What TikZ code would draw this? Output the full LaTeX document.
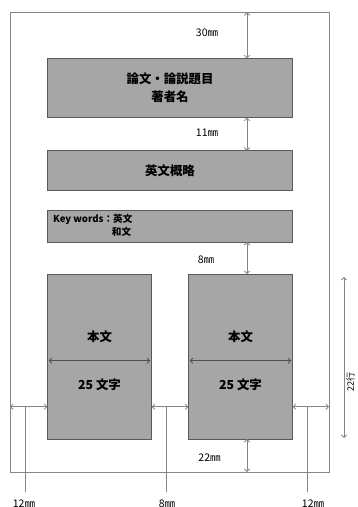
\documentclass[tikz,border=0pt]{standalone}
\usepackage{fontspec}
\setmainfont{Noto Sans CJK JP}
\usetikzlibrary{arrows.meta}
\definecolor{boxfill}{HTML}{A6A6A6}
\definecolor{boxline}{HTML}{5A5A5A}
\definecolor{dimline}{HTML}{858585}
\definecolor{innerline}{HTML}{505050}
\tikzset{
 blk/.style={draw=boxline, fill=boxfill, line width=0.9pt, inner sep=0pt, outer sep=0pt, anchor=north west},
 tip/.tip={Straight Barb[length=2.6pt,width=5.5pt]},
 dim/.style={draw=dimline, line width=0.8pt, tip-tip},
 innerdim/.style={draw=innerline, line width=0.8pt, tip-tip},
 leader/.style={draw=dimline, line width=0.8pt},
 lab/.style={font=\fontsize{10.5}{12}\selectfont, text=black, inner sep=0pt},
 big/.style={font=\fontsize{12.4}{18}\selectfont\bfseries, align=center, text=black},
 kwtext/.style={font=\fontsize{9.6}{11}\selectfont\bfseries, text=black, inner sep=0pt, anchor=west},
}
\begin{document}
\begin{tikzpicture}[x=1pt,y=-1pt]
\useasboundingbox (0,0) rectangle (357,507);
% page frame
\node[draw=dimline, line width=0.9pt, inner sep=0pt, outer sep=0pt, anchor=north west,
      minimum width=319pt, minimum height=459.7pt] (page) at (10,12.3) {};
% blocks
\node[blk, minimum width=245.4pt, minimum height=59.4pt] (title) at (47.3,58.3) {};
\node[big] (titletext) at (title.center) {論文・論説題目\\著者名};
\node[blk, minimum width=245.4pt, minimum height=39.3pt] (abs) at (47.3,150.7) {};
\node[big] (abstext) at (abs.center) {英文概略};
\node[blk, minimum width=245.4pt, minimum height=32pt] (kw) at (47.3,210) {};
\node[kwtext] (kw1) at (53,219) {Key words：英文};
\node[kwtext] (kw2) at (111.7,232) {和文};
\node[blk, minimum width=104.4pt, minimum height=165pt] (bodyL) at (47.3,274) {};
\node[blk, minimum width=104.4pt, minimum height=165pt] (bodyR) at (188.3,274) {};
\node[big] (bodyLt) at (99.5,337) {本文};
\node[big] (bodyLc) at (99.5,385) {25 文字};
\node[big] (bodyRt) at (240.5,337) {本文};
\node[big] (bodyRc) at (240.5,385) {25 文字};
% inner width arrows
\coordinate (iy) at (0,360.7);
\draw[innerdim] ([xshift=1.5pt]bodyL.west |- iy) -- ([xshift=-1.5pt]bodyL.east |- iy);
\draw[innerdim] ([xshift=1.5pt]bodyR.west |- iy) -- ([xshift=-1.5pt]bodyR.east |- iy);
% vertical dimension arrows
\coordinate (ax) at (247,0);
\draw[dim] (page.north -| ax) -- (title.north -| ax);
\draw[dim] (title.south -| ax) -- (abs.north -| ax);
\draw[dim] (kw.south -| ax) -- (bodyR.north -| ax);
\draw[dim] (bodyR.south -| ax) -- (page.south -| ax);
\node[lab] (d30) at (207,33) {30㎜};
\node[lab] (d11) at (207,133) {11㎜};
\node[lab] (d8) at (206,260) {8㎜};
\node[lab] (d22) at (209.5,458) {22㎜};
% horizontal margin arrows
\coordinate (my) at (0,406.7);
\draw[dim] (page.west |- my) -- (bodyL.west |- my);
\draw[dim] (bodyL.east |- my) -- (bodyR.west |- my);
\draw[dim] (bodyR.east |- my) -- (page.east |- my);
\coordinate (l1a) at (25,406.7);   \coordinate (l1b) at (25,492);
\coordinate (l2a) at (166,406.7);  \coordinate (l2b) at (166,492);
\coordinate (l3a) at (307,406.7);  \coordinate (l3b) at (307,492);
\draw[leader] (l1a) -- (l1b);
\draw[leader] (l2a) -- (l2b);
\draw[leader] (l3a) -- (l3b);
\node[lab] (m1) at (24,504) {12㎜};
\node[lab] (m2) at (167,504) {8㎜};
\node[lab] (m3) at (313,504) {12㎜};
% lines arrow
\coordinate (ra) at (344,277);
\coordinate (rb) at (344,438);
\draw[dim] (ra) -- (rb);
\node[lab, rotate=90, font=\fontsize{9}{10}\selectfont] (rows) at (350.5,382) {22行};
\end{tikzpicture}
\end{document}
